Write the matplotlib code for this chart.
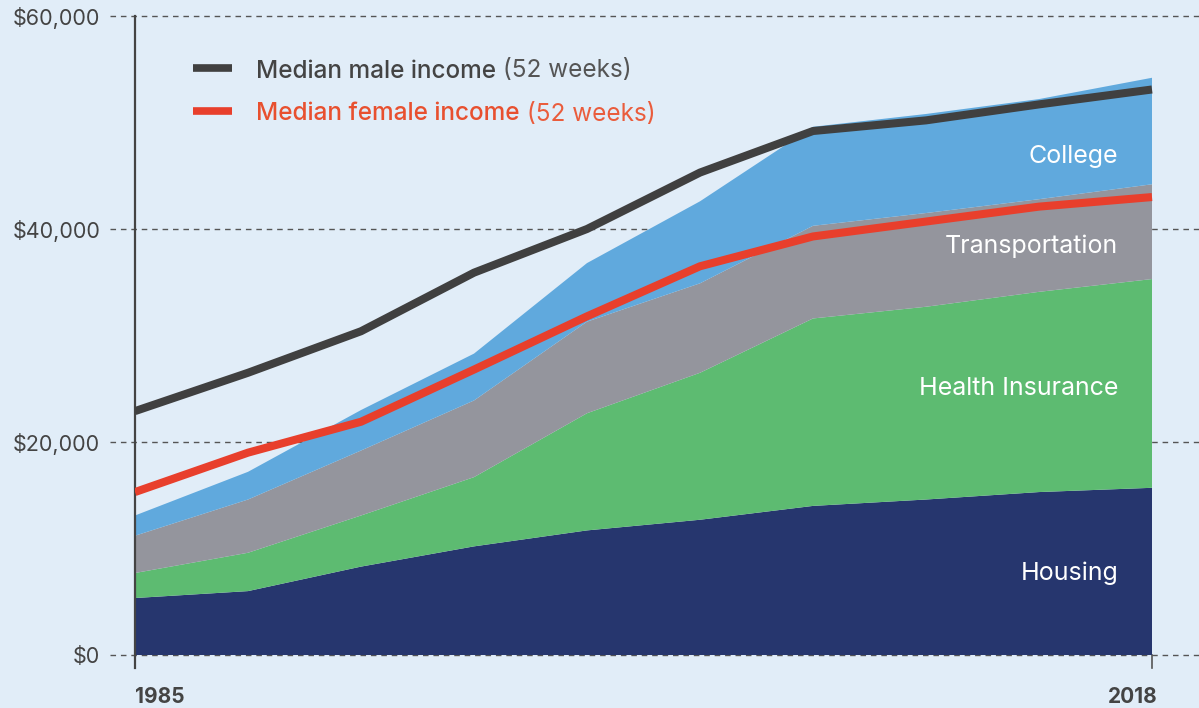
import matplotlib.pyplot as plt
from matplotlib.lines import Line2D
import numpy as np

# ten evenly spaced points between 1985 and 2018
period_index = list(range(10))
year_labels = ["1985", "2018"]

# yearly cost components (dollars), stacked bottom to top
housing = [5350, 6000, 8300, 10200, 11700, 12700, 14000, 14600, 15300, 15700]
health_insurance = [2350, 3600, 4800, 6500, 11000, 13800, 17600, 18100, 18800, 19600]
transportation = [3500, 5000, 6100, 7200, 8600, 8400, 8700, 8800, 8700, 8900]
college = [1900, 2600, 3800, 4400, 5500, 7700, 9300, 9300, 9400, 10000]

male_income = [22900, 26500, 30400, 35900, 40000, 45300, 49200, 50200, 51700, 53100]
female_income = [15300, 19000, 21900, 26800, 31800, 36500, 39300, 40700, 42100, 43000]

y_ticks = [0, 20000, 40000, 60000]
y_tick_labels = ["$0", "$20,000", "$40,000", "$60,000"]

area_names = ["Housing", "Health Insurance", "Transportation", "College"]

bg = "#E1EDF8"
colors = ["#26366E", "#5DBB71", "#94959D", "#60A9DD"]
male_color = "#404040"
female_color = "#E83F2C"
text_dark = "#444444"

plt.rcParams['font.family'] = ['Inter', 'DejaVu Sans']

W, H = 1199, 708
fig = plt.figure(figsize=(W / 100, H / 100), dpi=100, facecolor=bg)
ax = fig.add_axes([135 / W, 40 / H, (W - 135) / W, (668 - 16) / H])
ax.set_facecolor(bg)

x = np.array(period_index)
last = period_index[-1]
ax.set_xlim(0, last * (W - 135) / (1152 - 135))
ax.set_ylim(-1220, 60000)

# dashed grid, running out past the axis on both sides
for v in y_ticks:
    ax.plot([-25 / (W - 135), 1], [v, v], transform=ax.get_yaxis_transform(),
            clip_on=False, ls=(0, (4, 3.5)), lw=1, color="#555555", zorder=0)

ax.stackplot(x, housing, health_insurance, transportation, college,
             colors=colors, lw=0, zorder=2)

ax.plot(x, male_income, color=male_color, lw=5.8, zorder=3, solid_capstyle='butt')
ax.plot(x, female_income, color=female_color, lw=5.8, zorder=3, solid_capstyle='butt')

# axes dressing
for s in ["top", "right", "bottom"]:
    ax.spines[s].set_visible(False)
ax.spines["left"].set_color(text_dark)
ax.spines["left"].set_linewidth(1.6)
ax.set_xticks([])
ax.set_yticks(y_ticks)
ax.set_yticklabels(y_tick_labels)
ax.tick_params(axis='y', length=0, pad=25, labelsize=15.5, labelcolor=text_dark)

# small tick at the final year
ax.plot([last, last], [0, -1220], color="#555555", lw=1.2, clip_on=False, zorder=1)

ax.text(0, -3900, year_labels[0], ha='left', va='center', fontsize=15,
        fontweight='bold', color=text_dark)
ax.text(last + 0.05, -3900, year_labels[1], ha='right', va='center', fontsize=15,
        fontweight='bold', color=text_dark)

# area labels, right aligned inside the last stretch
label_y = [7700, 25000, 38400, 46800]
for name, ly in zip(area_names, label_y):
    ax.text(last - 0.3, ly, name, ha='right', va='center', fontsize=18,
            color="white", zorder=4)

# hand-made legend
def legend_row(y_px, color, bold_txt, txt_color, note_color):
    yf = 1 - y_px / H
    fig.add_artist(Line2D([193 / W, 232 / W], [yf, yf], color=color, lw=5.5,
                          solid_capstyle='butt'))
    t1 = fig.text(256 / W, yf - 3 / H, bold_txt, ha='left', va='center', fontsize=17.5,
                  fontweight='medium', color=txt_color)
    ax.annotate(" (52 weeks)", xy=(1, 0), xycoords=t1, ha='left', va='bottom',
                fontsize=17.5, color=note_color, annotation_clip=False)

legend_row(68, male_color, "Median male income", text_dark, "#555555")
legend_row(111, female_color, "Median female income", "#E8502F", "#EA5C3C")

fig.savefig("out.png", dpi=100, facecolor=bg)
